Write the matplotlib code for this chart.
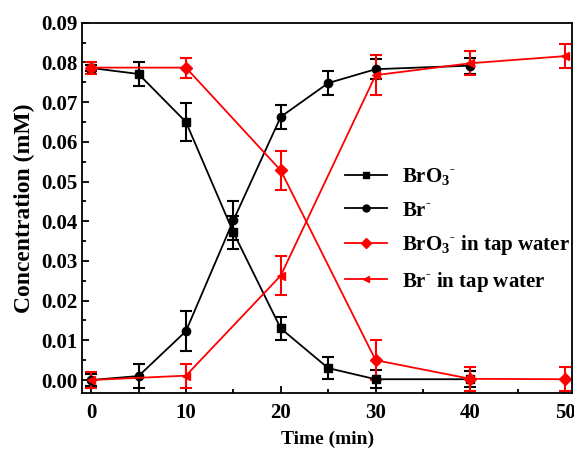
import matplotlib
matplotlib.use("Agg")
import matplotlib.pyplot as plt
from matplotlib.lines import Line2D
from matplotlib.ticker import MultipleLocator, FormatStrFormatter

plt.rcParams['font.family'] = ['Liberation Serif', 'DejaVu Serif']
plt.rcParams['font.weight'] = 'bold'
plt.rcParams['mathtext.fontset'] = 'custom'
plt.rcParams['mathtext.rm'] = 'Liberation Serif:bold'
plt.rcParams['mathtext.bf'] = 'Liberation Serif:bold'

t_lab = [0, 5, 10, 15, 20, 25, 30, 40]
bro3 = [0.0786, 0.0771, 0.0650, 0.0372, 0.0130, 0.0030, 0.0002, 0.0002]
bro3_err = [0.0008, 0.0030, 0.0048, 0.0042, 0.0028, 0.0028, 0.0022, 0.0020]
br = [0.0000, 0.0010, 0.0123, 0.0402, 0.0663, 0.0748, 0.0783, 0.0792]
br_err = [0.0015, 0.0030, 0.0050, 0.0050, 0.0030, 0.0030, 0.0025, 0.0020]

t_tap = [0, 10, 20, 30, 40, 50]
bro3_tap = [0.0787, 0.0787, 0.0528, 0.0050, 0.0003, 0.0002]
bro3_tap_err = [0.0015, 0.0025, 0.0050, 0.0050, 0.0030, 0.0030]
br_tap = [0.0000, 0.0011, 0.0263, 0.0768, 0.0798, 0.0816]
br_tap_err = [0.0020, 0.0030, 0.0050, 0.0050, 0.0030, 0.0030]

labels = [r'BrO$_3$$^{\text{-}}$', r'Br$^{\text{-}}$',
          r'BrO$_3$$^{\text{-}}$ in tap water', r'Br$^{\text{-}}$ in tap water']
colors = ['black', 'black', 'red', 'red']
markers = ['s', 'o', 'D', '<']

fig = plt.figure(figsize=(5.74, 4.55), dpi=100)
ax = fig.add_axes([0.143, 0.136, 0.854, 0.814])

ekw = dict(capsize=4, capthick=1.5, elinewidth=1.5, lw=1.3, ms=6)
series = [(t_lab, bro3, bro3_err), (t_lab, br, br_err),
          (t_tap, bro3_tap, bro3_tap_err), (t_tap, br_tap, br_tap_err)]
for (x, y, e), c, m in zip(series, colors, markers):
    ax.errorbar(x, y, yerr=e, color=c, marker=m, **ekw)

ax.set_xlim(-0.95, 50.74)
ax.set_ylim(-0.0033, 0.09)
ax.xaxis.set_major_locator(MultipleLocator(10))
ax.xaxis.set_minor_locator(MultipleLocator(5))
ax.yaxis.set_major_locator(MultipleLocator(0.01))
ax.yaxis.set_minor_locator(MultipleLocator(0.005))
ax.yaxis.set_major_formatter(FormatStrFormatter('%.2f'))
ax.tick_params(which='both', direction='in', labelsize=15, width=1.3)
ax.tick_params(which='major', length=5)
ax.tick_params(which='minor', length=3)
ax.tick_params(axis='x', pad=7)
for lab in ax.get_xticklabels() + ax.get_yticklabels():
    lab.set_fontweight('bold')
for s in ax.spines.values():
    s.set_linewidth(1.3)

ax.set_xlabel('Time (min)', fontsize=14, fontweight='bold', labelpad=6)
ax.set_ylabel('Concentration (mM)', fontsize=17, fontweight='bold', labelpad=4)

handles = [Line2D([], [], color=c, marker=m, lw=1.3, ms=5) for c, m in zip(colors, markers)]
leg = ax.legend(handles, labels, loc='center left', bbox_to_anchor=(0.537, 0.44), frameon=False,
                fontsize=15, handlelength=2.0, labelspacing=0.6, handletextpad=0.7,
                borderaxespad=0, borderpad=0)
for t in leg.get_texts():
    t.set_fontweight('bold')

fig.savefig('out.png', dpi=100)
